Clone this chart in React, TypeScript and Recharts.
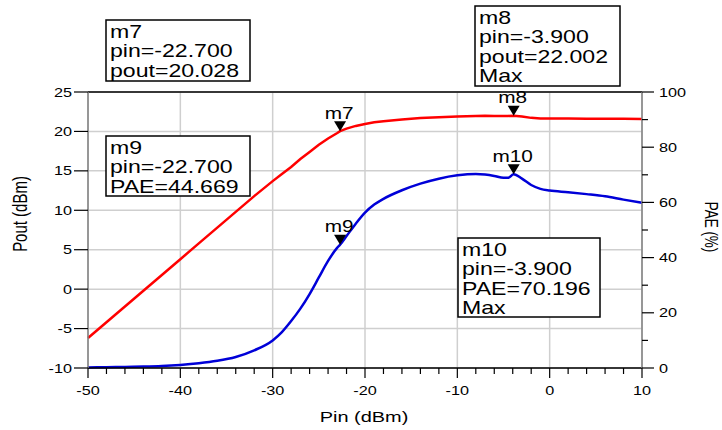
import { CartesianGrid, ComposedChart, Line, ReferenceDot, ReferenceLine, XAxis, YAxis } from 'recharts';

// input power sweep (dBm)
const pin = [-50, -48, -46, -44, -42, -40, -38, -36, -34, -32, -30, -29, -28, -27, -26, -25, -24, -23, -22.7, -22, -21, -20, -19, -18, -16, -14, -12, -10, -8, -7, -6, -5, -4.5, -3.9, -3, -2, -1, 0, 2, 4, 6, 8, 10];
// output power (dBm), left axis
const pout = [-6.2, -4.2, -2.2, -0.2, 1.8, 3.8, 5.8, 7.8, 9.8, 11.8, 13.7, 14.6, 15.5, 16.5, 17.4, 18.3, 19.1, 19.8, 20.03, 20.35, 20.7, 20.95, 21.15, 21.3, 21.5, 21.7, 21.8, 21.9, 21.95, 22.0, 21.95, 21.95, 21.97, 22.0, 21.9, 21.72, 21.65, 21.65, 21.65, 21.62, 21.6, 21.6, 21.58];
// power added efficiency (%), right axis
const pae = [0.2, 0.3, 0.4, 0.5, 0.7, 1.1, 1.7, 2.6, 4.0, 6.4, 10.0, 13.0, 17.0, 21.5, 26.8, 32.8, 38.8, 43.6, 44.67, 47.8, 52.3, 56.3, 59.2, 61.3, 64.4, 66.8, 68.6, 69.8, 70.3, 70.1, 69.6, 68.9, 68.9, 70.2, 68.6, 66.3, 64.9, 64.3, 63.7, 63.0, 62.2, 61.0, 59.9];

const pinTicks = [-50, -48, -46, -44, -42, -40, -38, -36, -34, -32, -30, -28, -26, -24, -22, -20, -18, -16, -14, -12, -10, -8, -6, -4, -2, 0, 2, 4, 6, 8, 10];
const pinGrid = [-50, -40, -30, -20, -10, 0, 10];
const poutTicks = [-10, -5, 0, 5, 10, 15, 20, 25];
const paeTicks = [0, 10, 20, 30, 40, 50, 60, 70, 80, 90, 100];

const markerNames = ['m7', 'm8', 'm9', 'm10'];
const markerPin = [-22.7, -3.9, -22.7, -3.9];
const markerValue = [20.028, 22.002, 44.669, 70.196];
const markerAxis = ['left', 'left', 'right', 'right'];

const readoutLines = [
  ['m7', 'pin=-22.700', 'pout=20.028'],
  ['m8', 'pin=-3.900', 'pout=22.002', 'Max'],
  ['m9', 'pin=-22.700', 'PAE=44.669'],
  ['m10', 'pin=-3.900', 'PAE=70.196', 'Max'],
];
// annotation box placement: x, y, w, h
const readoutBoxes = [
  [106, 20, 144, 61],
  [475, 6, 145, 80],
  [106, 136, 144, 60],
  [458, 238, 142, 79],
];

const data = pin.map((p, i) => ({ pin: p, pout: pout[i], pae: pae[i] }));

const FONT = '"Liberation Sans", Arial, sans-serif';

const WideText = ({ x, y, size, anchor = 'start', sx = 1.3, children }: any) => (
  <text
    transform={`translate(${x} ${y}) scale(${sx} 1)`}
    textAnchor={anchor}
    fontSize={size}
    fontFamily={FONT}
    fill="#000"
  >
    {children}
  </text>
);

const PinTick = ({ x, y, payload }: any) => {
  const major = payload.value % 10 === 0;
  return (
    <g>
      <line x1={x} y1={y} x2={x} y2={y + (major ? 10 : 6)} stroke="#000" strokeWidth={1.2} />
      {major && (
        <WideText x={x} y={y + 27} size={12.5} anchor="middle">
          {payload.value}
        </WideText>
      )}
    </g>
  );
};

const PoutTick = ({ x, y, payload }: any) => (
  <g>
    <line x1={x - 14} y1={y} x2={x} y2={y} stroke="#000" strokeWidth={1.2} />
    <WideText x={x - 16} y={y + 4.5} size={12.5} anchor="end">
      {payload.value}
    </WideText>
  </g>
);

const PaeTick = ({ x, y, payload }: any) => {
  const major = payload.value % 20 === 0;
  return (
    <g>
      <line x1={x} y1={y} x2={x + (major ? 12 : 6)} y2={y} stroke="#000" strokeWidth={1.2} />
      {major && (
        <WideText x={x + 17} y={y + 4.5} size={12.5}>
          {payload.value}
        </WideText>
      )}
    </g>
  );
};

const MarkerShape = ({ cx, cy, name }: any) => (
  <g>
    <path d={`M${cx - 6},${cy - 10} L${cx + 6},${cy - 10} L${cx},${cy} Z`} fill="#000" />
    <WideText x={cx - 1} y={cy - 12.5} size={16} anchor="middle">
      {name}
    </WideText>
  </g>
);

export default function App() {
  return (
    <div style={{ position: 'relative', width: 722, height: 430, background: '#fff' }}>
      <style>{'body{margin:0}'}</style>
      <ComposedChart
        width={722}
        height={430}
        data={data}
        margin={{ top: 92, right: 20, bottom: 32, left: 0 }}
      >
        <XAxis xAxisId="grid" dataKey="pin" type="number" domain={[-50, 10]} ticks={pinGrid} hide />
        <CartesianGrid xAxisId="grid" yAxisId="left" stroke="#cfcfcf" strokeWidth={1.5} />
        <XAxis
          dataKey="pin"
          type="number"
          domain={[-50, 10]}
          ticks={pinTicks}
          interval={0}
          height={30}
          tickSize={0}
          tickMargin={0}
          tickLine={false}
          tick={<PinTick />}
          axisLine={{ stroke: '#000', strokeWidth: 1.5 }}
        />
        <YAxis
          yAxisId="left"
          type="number"
          domain={[-10, 25]}
          ticks={poutTicks}
          interval={0}
          width={88}
          tickSize={0}
          tickMargin={0}
          tickLine={false}
          tick={<PoutTick />}
          axisLine={{ stroke: '#808080', strokeWidth: 1.5 }}
        />
        <YAxis
          yAxisId="right"
          orientation="right"
          type="number"
          domain={[0, 100]}
          ticks={paeTicks}
          interval={0}
          width={60}
          tickSize={0}
          tickMargin={0}
          tickLine={false}
          tick={<PaeTick />}
          axisLine={{ stroke: '#808080', strokeWidth: 1.5 }}
        />
        <ReferenceLine yAxisId="left" y={25} stroke="#000" strokeWidth={1.5} />
        <Line
          yAxisId="left"
          dataKey="pout"
          type="linear"
          stroke="#ff0000"
          strokeWidth={2.5}
          dot={false}
          isAnimationActive={false}
        />
        <Line
          yAxisId="right"
          dataKey="pae"
          type="monotone"
          stroke="#0000d8"
          strokeWidth={2.5}
          dot={false}
          isAnimationActive={false}
        />
        {markerNames.map((name, i) => (
          <ReferenceDot
            key={name}
            yAxisId={markerAxis[i]}
            x={markerPin[i]}
            y={markerValue[i]}
            shape={(p: any) => <MarkerShape cx={p.cx} cy={p.cy} name={name} />}
          />
        ))}
      </ComposedChart>
      <svg
        width={722}
        height={430}
        style={{ position: 'absolute', left: 0, top: 0, pointerEvents: 'none' }}
      >
        {readoutLines.map((lines, i) => {
          const [bx, by, bw, bh] = readoutBoxes[i];
          return (
            <g key={i}>
              <rect x={bx} y={by} width={bw} height={bh} fill="#fff" stroke="#000" strokeWidth={1.5} />
              {lines.map((t, j) => (
                <WideText key={j} x={bx + 4} y={by + 18 + j * 19.3} size={17.5} sx={1.32}>
                  {t}
                </WideText>
              ))}
            </g>
          );
        })}
        <WideText x={364} y={422} size={15} anchor="middle" sx={1.33}>
          Pin (dBm)
        </WideText>
        <text
          transform="translate(27 214) rotate(-90) scale(1 1.33)"
          textAnchor="middle"
          fontSize={15}
          fontFamily={FONT}
        >
          Pout (dBm)
        </text>
        <text
          transform="translate(705 227) rotate(90) scale(1 1.3)"
          textAnchor="middle"
          fontSize={13.5}
          fontFamily={FONT}
        >
          PAE (%)
        </text>
      </svg>
    </div>
  );
}
